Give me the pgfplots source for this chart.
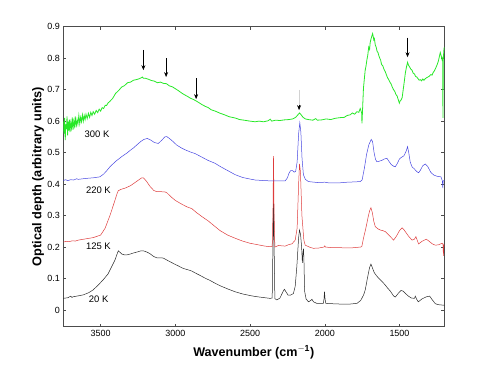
\documentclass[border=0pt]{standalone}
\usepackage{fontspec}
\setmainfont{Liberation Sans}
\usepackage{pgfplots}
\pgfplotsset{compat=1.18}
\usetikzlibrary{arrows.meta}
\definecolor{cgreen}{RGB}{40,232,40}
\definecolor{cblue}{RGB}{70,70,225}
\definecolor{cred}{RGB}{222,60,60}
\definecolor{cblack}{RGB}{40,40,40}
\begin{document}
\begin{tikzpicture}
\path[use as bounding box] (0,0) rectangle (491bp,369bp);
\begin{axis}[
  at={(63.3bp,42.3bp)}, anchor=south west,
  scale only axis, width=381bp, height=300bp,
  x dir=reverse, xmin=1200, xmax=3750, ymin=-0.053, ymax=0.9,
  xtick={1500,2000,2500,3000,3500},
  ytick={0,0.1,0.2,0.3,0.4,0.5,0.6,0.7,0.8,0.9},
  tick align=inside, major tick length=3bp,
  tick style={black!70, line width=0.5pt},
  axis line style={black!70, line width=0.6pt},
  /pgf/number format/assume math mode=true,
  xticklabel style={font=\fontsize{9}{10}\selectfont, /pgf/number format/set thousands separator={}},
  yticklabel style={font=\fontsize{9}{10}\selectfont, /pgf/number format/fixed, /pgf/number format/precision=1},
  xlabel={\fontsize{12.6}{15}\selectfont\bfseries Wavenumber (cm$^{\mathbf{-1}}$)},
  ylabel={\fontsize{12.8}{15}\selectfont\bfseries Optical depth (arbitrary units)},
  every axis x label/.style={at={(axis description cs:0.5,-0.085)}, anchor=center},
  every axis y label/.style={at={(axis description cs:-0.066,0.5)}, rotate=90, anchor=center},
  clip=true,
]
% 20 K
\addplot[cblack, line width=0.5pt] table {
3750 0.037
3720 0.039
3700 0.044
3692 0.040
3684 0.042
3650 0.045
3617 0.048
3580 0.055
3550 0.064
3515 0.080
3483 0.096
3450 0.115
3426 0.138
3404 0.159
3390 0.178
3382 0.188
3370 0.183
3359 0.178
3340 0.175
3326 0.175
3300 0.178
3282 0.181
3250 0.185
3230 0.188
3214 0.188
3190 0.184
3170 0.179
3145 0.170
3125 0.166
3100 0.166
3081 0.165
3050 0.157
3014 0.148
2980 0.140
2947 0.132
2910 0.127
2891 0.124
2860 0.116
2835 0.110
2800 0.101
2768 0.094
2734 0.085
2700 0.077
2650 0.067
2600 0.058
2550 0.051
2500 0.046
2466 0.043
2400 0.039
2366 0.037
2352 0.038
2347 0.200
2343 0.370
2339 0.200
2334 0.036
2321 0.032
2300 0.038
2280 0.058
2270 0.066
2260 0.058
2245 0.047
2231 0.047
2210 0.052
2198 0.075
2187 0.138
2175 0.230
2169 0.254
2162 0.240
2155 0.200
2150 0.150
2146 0.180
2142 0.195
2139 0.150
2135 0.060
2125 0.035
2109 0.026
2095 0.030
2086 0.034
2075 0.026
2053 0.021
2010 0.021
2005 0.035
2002 0.058
1998 0.035
1993 0.021
1950 0.020
1900 0.019
1830 0.019
1785 0.021
1760 0.030
1740 0.048
1729 0.064
1715 0.100
1700 0.135
1691 0.146
1682 0.135
1670 0.120
1662 0.114
1645 0.104
1628 0.096
1600 0.082
1580 0.070
1561 0.060
1540 0.045
1528 0.041
1510 0.052
1490 0.062
1475 0.060
1461 0.053
1440 0.044
1420 0.038
1400 0.037
1394 0.044
1386 0.035
1374 0.026
1350 0.035
1320 0.042
1298 0.044
1280 0.032
1260 0.020
1240 0.017
1220 0.016
1200 0.015
};
% 125 K
\addplot[cred, line width=0.5pt] table {
3750 0.216
3730 0.218
3710 0.217
3690 0.220
3670 0.219
3650 0.222
3600 0.226
3550 0.230
3500 0.238
3470 0.260
3438 0.300
3410 0.340
3390 0.370
3382 0.379
3360 0.384
3337 0.387
3300 0.395
3270 0.405
3240 0.415
3225 0.420
3214 0.420
3195 0.410
3170 0.393
3145 0.380
3125 0.376
3100 0.376
3070 0.375
3058 0.373
3030 0.360
3000 0.348
2960 0.337
2924 0.328
2890 0.322
2857 0.309
2820 0.296
2780 0.283
2734 0.265
2700 0.252
2650 0.238
2600 0.228
2550 0.219
2500 0.212
2466 0.209
2400 0.203
2366 0.201
2352 0.201
2347 0.300
2343 0.489
2339 0.300
2334 0.200
2310 0.205
2290 0.204
2265 0.203
2240 0.208
2220 0.210
2198 0.222
2185 0.260
2175 0.400
2169 0.464
2163 0.440
2153 0.300
2140 0.222
2131 0.206
2098 0.199
2076 0.196
2040 0.197
2005 0.200
2000 0.204
1995 0.200
1950 0.198
1900 0.198
1830 0.197
1760 0.200
1752 0.202
1740 0.230
1725 0.260
1710 0.295
1700 0.315
1691 0.325
1682 0.310
1672 0.282
1662 0.265
1645 0.258
1628 0.254
1610 0.252
1595 0.249
1575 0.240
1561 0.233
1539 0.222
1520 0.235
1500 0.252
1483 0.261
1470 0.255
1461 0.249
1440 0.235
1416 0.222
1400 0.225
1390 0.233
1380 0.220
1372 0.210
1350 0.218
1321 0.225
1300 0.218
1280 0.210
1260 0.206
1240 0.207
1225 0.210
1215 0.212
1209 0.210
1206 0.172
1203 0.208
1200 0.206
};
% 220 K
\addplot[cblue, line width=0.5pt] table {
3750 0.411
3735 0.414
3720 0.411
3700 0.414
3680 0.413
3660 0.417
3650 0.415
3600 0.418
3550 0.420
3505 0.423
3480 0.432
3460 0.442
3438 0.455
3400 0.472
3360 0.487
3326 0.498
3300 0.508
3280 0.515
3259 0.524
3230 0.536
3210 0.542
3188 0.545
3165 0.540
3140 0.532
3114 0.529
3090 0.540
3070 0.550
3058 0.551
3040 0.545
3015 0.535
2991 0.524
2960 0.515
2935 0.509
2900 0.502
2868 0.497
2820 0.485
2780 0.475
2734 0.466
2700 0.456
2650 0.443
2600 0.430
2550 0.421
2500 0.416
2466 0.413
2400 0.411
2350 0.410
2300 0.410
2265 0.410
2250 0.420
2240 0.434
2228 0.443
2215 0.443
2205 0.438
2195 0.440
2185 0.470
2175 0.560
2167 0.595
2160 0.565
2152 0.480
2143 0.430
2130 0.415
2109 0.408
2050 0.405
2000 0.406
1975 0.404
1900 0.404
1850 0.406
1800 0.407
1763 0.408
1750 0.413
1735 0.450
1720 0.495
1705 0.525
1689 0.542
1680 0.535
1670 0.500
1660 0.478
1651 0.471
1640 0.472
1620 0.475
1600 0.480
1584 0.482
1570 0.472
1555 0.462
1540 0.457
1528 0.455
1515 0.465
1500 0.480
1490 0.484
1470 0.490
1455 0.505
1446 0.519
1438 0.500
1428 0.470
1416 0.455
1400 0.448
1385 0.440
1372 0.436
1360 0.444
1345 0.458
1327 0.464
1310 0.455
1290 0.437
1271 0.429
1250 0.425
1235 0.424
1222 0.423
1213 0.410
1210 0.387
1207 0.410
1200 0.412
};
% 300 K
\addplot[cgreen, line width=0.8pt] table {
3750 0.600
3745 0.560
3741 0.610
3737 0.540
3733 0.590
3729 0.575
3725 0.615
3721 0.555
3717 0.598
3713 0.570
3709 0.605
3705 0.565
3700 0.595
3695 0.578
3690 0.612
3685 0.572
3680 0.600
3675 0.585
3670 0.615
3664 0.580
3658 0.605
3652 0.590
3646 0.618
3640 0.592
3634 0.612
3628 0.598
3622 0.620
3616 0.600
3610 0.618
3604 0.605
3598 0.622
3590 0.608
3582 0.625
3574 0.612
3566 0.628
3558 0.618
3550 0.630
3540 0.622
3530 0.634
3520 0.627
3510 0.638
3500 0.632
3490 0.643
3480 0.640
3470 0.650
3460 0.650
3450 0.658
3440 0.662
3420 0.672
3400 0.688
3380 0.697
3360 0.708
3340 0.713
3320 0.722
3300 0.724
3280 0.730
3260 0.732
3240 0.735
3220 0.740
3214 0.736
3200 0.736
3180 0.733
3160 0.729
3140 0.727
3120 0.722
3100 0.724
3080 0.720
3060 0.719
3040 0.712
3020 0.709
3000 0.703
2980 0.697
2960 0.690
2940 0.684
2920 0.679
2900 0.673
2880 0.669
2860 0.664
2840 0.658
2820 0.652
2800 0.647
2780 0.643
2760 0.636
2734 0.632
2700 0.625
2670 0.620
2640 0.614
2600 0.610
2570 0.605
2540 0.603
2500 0.600
2466 0.598
2440 0.600
2410 0.598
2380 0.601
2365 0.606
2355 0.600
2330 0.603
2300 0.602
2270 0.604
2240 0.605
2215 0.607
2195 0.612
2180 0.620
2169 0.626
2158 0.620
2145 0.612
2130 0.607
2110 0.605
2080 0.603
2060 0.608
2050 0.603
2020 0.604
1990 0.607
1960 0.605
1930 0.609
1900 0.611
1870 0.612
1850 0.618
1830 0.620
1815 0.626
1800 0.622
1785 0.630
1772 0.628
1763 0.640
1757 0.632
1753 0.625
1751 0.593
1749 0.615
1745 0.660
1741 0.705
1736 0.730
1730 0.760
1724 0.775
1718 0.795
1712 0.810
1706 0.835
1700 0.828
1696 0.850
1690 0.862
1685 0.870
1680 0.878
1676 0.870
1672 0.858
1668 0.862
1662 0.842
1656 0.835
1650 0.822
1644 0.818
1638 0.808
1632 0.800
1626 0.794
1620 0.780
1612 0.776
1604 0.765
1596 0.758
1588 0.748
1580 0.738
1572 0.732
1564 0.724
1556 0.718
1548 0.708
1540 0.700
1532 0.695
1524 0.685
1516 0.680
1508 0.668
1501 0.657
1495 0.665
1488 0.668
1482 0.675
1475 0.700
1468 0.725
1461 0.752
1454 0.770
1446 0.787
1440 0.778
1432 0.772
1424 0.765
1416 0.762
1408 0.752
1400 0.750
1392 0.742
1384 0.740
1376 0.735
1368 0.730
1361 0.732
1352 0.728
1344 0.734
1336 0.730
1327 0.735
1318 0.738
1310 0.740
1300 0.743
1290 0.748
1282 0.746
1274 0.755
1266 0.760
1258 0.768
1249 0.778
1240 0.790
1233 0.805
1227 0.818
1221 0.808
1215 0.795
1211 0.800
1209 0.610
1207 0.795
1203 0.825
1200 0.835
};
% labels
\node[font=\fontsize{9.5}{11}\selectfont] at (axis cs:3524,0.559) {300 K};
\node[font=\fontsize{9.5}{11}\selectfont] at (axis cs:3515,0.379) {220 K};
\node[font=\fontsize{9.5}{11}\selectfont] at (axis cs:3515,0.201) {125 K};
\node[font=\fontsize{9.5}{11}\selectfont] at (axis cs:3513,0.035) {20 K};
% arrows
\draw[-{Stealth[length=5pt,width=4pt]}, line width=0.6pt] (axis cs:3214,0.826) -- (axis cs:3214,0.762);
\draw[-{Stealth[length=5pt,width=4pt]}, line width=0.6pt] (axis cs:3062,0.800) -- (axis cs:3062,0.740);
\draw[-{Stealth[length=5pt,width=4pt]}, line width=0.6pt] (axis cs:2861,0.737) -- (axis cs:2861,0.670);
\draw[gray!35, line width=0.6pt] (axis cs:2172,0.699) -- (axis cs:2172,0.650);
\draw[-{Stealth[length=5pt,width=4pt]}, line width=0.6pt] (axis cs:2172,0.652) -- (axis cs:2172,0.635);
\draw[-{Stealth[length=5pt,width=4pt]}, line width=0.6pt] (axis cs:1446,0.865) -- (axis cs:1446,0.803);
\end{axis}
\end{tikzpicture}
\end{document}
